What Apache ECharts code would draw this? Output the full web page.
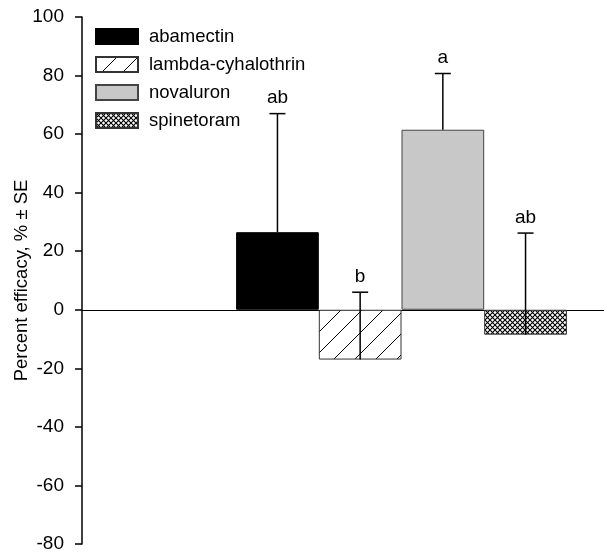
<!DOCTYPE html>
<html><head><meta charset="utf-8">
<script src="https://cdn.jsdelivr.net/npm/echarts@6/dist/echarts.min.js"></script>
<style>html,body{margin:0;padding:0;background:#fff}#c{width:604px;height:552px}</style>
</head><body><div id="c"></div>
<script>
const treatments = ['abamectin', 'lambda-cyhalothrin', 'novaluron', 'spinetoram'];
const efficacy = [26.5, -17.0, 61.5, -8.5];
const stdErr = [40.5, 23.0, 19.2, 34.7];
const letters = ['ab', 'b', 'a', 'ab'];
const yTicks = [-80, -60, -40, -20, 0, 20, 40, 60, 80, 100];

function hatch() {
  const c = document.createElement('canvas'); c.width = 21; c.height = 21;
  const g = c.getContext('2d'); g.fillStyle = '#fff'; g.fillRect(0, 0, 21, 21);
  g.strokeStyle = '#000'; g.lineWidth = 1;
  g.beginPath(); g.moveTo(-1, 22); g.lineTo(22, -1); g.stroke();
  return c;
}
function cross() {
  const c = document.createElement('canvas'); c.width = 5; c.height = 5;
  const g = c.getContext('2d'); g.fillStyle = '#fff'; g.fillRect(0, 0, 5, 5);
  g.strokeStyle = '#000'; g.lineWidth = 1.1;
  g.beginPath(); g.moveTo(-1, 6); g.lineTo(6, -1); g.moveTo(-1, -1); g.lineTo(6, 6); g.stroke();
  return c;
}
const fills = ['#000', {image: hatch(), repeat: 'repeat'}, '#c8c8c8', {image: cross(), repeat: 'repeat'}];
const borders = ['#000', '#333', '#444', '#333'];
const BW = 82.7;
const FONT = '"Liberation Sans", Arial, sans-serif';

const chart = echarts.init(document.getElementById('c'), null, {renderer: 'canvas'});
const series = treatments.map((t, i) => ({
  name: t, type: 'bar', data: [efficacy[i]], barWidth: BW, barGap: '0%',
  itemStyle: {color: fills[i], borderColor: borders[i], borderWidth: 1},
  emphasis: {disabled: true}, z: 2
}));
series.push({
  type: 'custom', z: 5, silent: true,
  data: treatments.map((t, i) => [0, efficacy[i], stdErr[i], i]),
  encode: {x: 0, y: 1},
  renderItem: function (params, api) {
    const i = api.value(3);
    const v = api.value(1), se = api.value(2);
    const base = api.coord([0, v]);
    const top = api.coord([0, v + se]);
    const x = base[0] + BW * (i - 1.5);
    return {type: 'group', children: [
      {type: 'line', shape: {x1: x, y1: base[1], x2: x, y2: top[1]}, style: {stroke: '#000', lineWidth: 1.5}},
      {type: 'line', shape: {x1: x - 8, y1: top[1], x2: x + 8, y2: top[1]}, style: {stroke: '#000', lineWidth: 1.5}},
      {type: 'text', style: {text: letters[i], x: x, y: top[1] - 6, align: 'center', verticalAlign: 'bottom',
        font: '19px ' + FONT, fill: '#000'}}
    ]};
  }
});

chart.setOption({
  animation: false,
  textStyle: {fontFamily: FONT},
  grid: {left: 82, top: 17, bottom: 8, width: 639, containLabel: false, outerBoundsMode: 'none'},
  legend: {
    orient: 'vertical', left: 95, top: 27, padding: 0, itemWidth: 42, itemHeight: 15, itemGap: 9,
    icon: 'rect', data: treatments, selectedMode: false,
    textStyle: {fontSize: 18.5, color: '#000', lineHeight: 15, padding: [0, 0, 0, 6]}
  },
  xAxis: {
    type: 'category', data: ['treatment'],
    axisLine: {onZero: true, lineStyle: {color: '#000', width: 1}},
    axisTick: {show: false}, axisLabel: {show: false}, splitLine: {show: false}
  },
  yAxis: {
    type: 'value', min: yTicks[0], max: yTicks[yTicks.length - 1], interval: 20,
    name: 'Percent efficacy, % ± SE', nameLocation: 'middle', nameGap: 51, nameRotate: 90,
    nameMoveOverlap: false,
    nameTextStyle: {fontSize: 18.5, color: '#000'},
    axisLine: {show: true, lineStyle: {color: '#000', width: 1.5}},
    axisTick: {show: true, inside: false, length: 7, lineStyle: {color: '#000', width: 1.5}},
    axisLabel: {fontSize: 19, color: '#000', margin: 18},
    splitLine: {show: false}
  },
  series: series
});
</script></body></html>
